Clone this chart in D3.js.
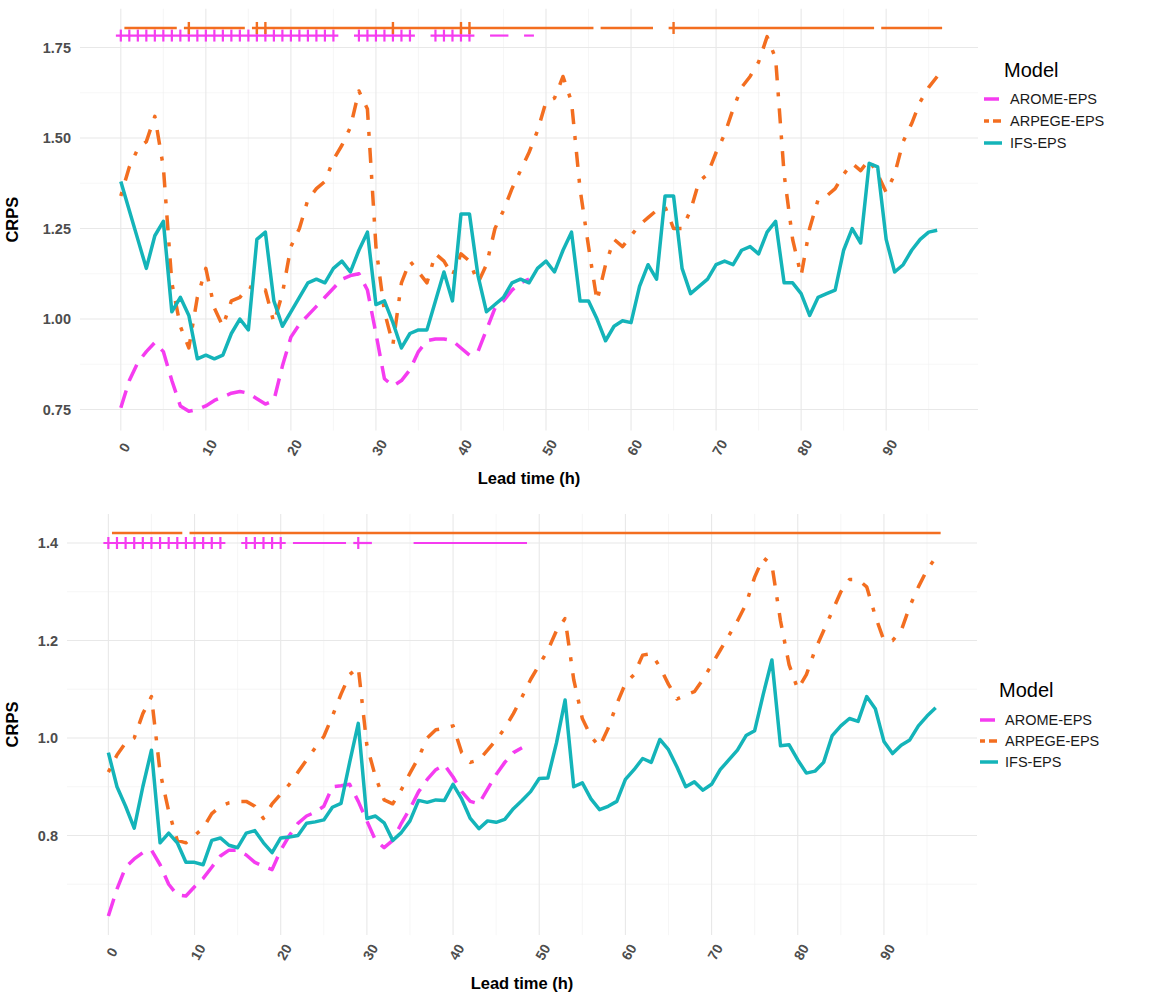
<!DOCTYPE html>
<html><head><meta charset="utf-8">
<script src="https://cdn.jsdelivr.net/npm/d3@7"></script>
<style>body{margin:0;background:#fff}</style>
</head><body>
<svg id="chart" width="1167" height="992"></svg>
<script>
// ---------- DATA ----------
const models = ["AROME-EPS", "ARPEGE-EPS", "IFS-EPS"];
const modelColors = ["#f53cf0", "#f36e20", "#14b4b9"];
const leadTimes = [0,1,2,3,4,5,6,7,8,9,10,11,12,13,14,15,16,17,18,19,20,21,22,23,24,25,26,27,28,29,30,31,32,33,34,35,36,37,38,39,40,41,42,43,44,45,46,47,48,49,50,51,52,53,54,55,56,57,58,59,60,61,62,63,64,65,66,67,68,69,70,71,72,73,74,75,76,77,78,79,80,81,82,83,84,85,86,87,88,89,90,91,92,93,94,95,96];
const xTicks = [0,10,20,30,40,50,60,70,80,90];
const topYTicks = [0.75,1.00,1.25,1.50,1.75];
const bottomYTicks = [0.8,1.0,1.2,1.4];

// Top panel
const topArome = [0.755,0.83,0.88,0.91,0.935,0.91,0.83,0.76,0.745,0.75,
  0.76,0.775,0.785,0.795,0.80,0.795,0.78,0.765,0.775,0.87,
  0.95,0.985,1.01,1.035,1.06,1.085,1.11,1.12,1.125,1.08,
  0.96,0.835,0.815,0.83,0.86,0.91,0.94,0.945,0.945,0.94,
  0.92,0.90,0.91,0.97,1.03,1.05,1.08,1.10,1.11];
const topArpege = [1.34,1.42,1.47,1.49,1.56,1.42,1.10,0.98,0.92,1.06,
  1.14,1.03,0.98,1.05,1.06,1.09,1.08,1.08,0.99,1.07,
  1.20,1.25,1.33,1.36,1.38,1.44,1.48,1.53,1.63,1.58,
  1.20,1.02,0.93,1.10,1.16,1.13,1.10,1.18,1.16,1.12,
  1.18,1.16,1.10,1.15,1.25,1.30,1.36,1.41,1.46,1.52,
  1.60,1.61,1.67,1.60,1.36,1.20,1.05,1.15,1.22,1.20,
  1.23,1.26,1.28,1.30,1.31,1.25,1.25,1.30,1.38,1.40,
  1.46,1.51,1.58,1.64,1.67,1.71,1.78,1.72,1.40,1.22,
  1.12,1.25,1.33,1.34,1.36,1.40,1.43,1.41,1.44,1.40,
  1.35,1.40,1.49,1.54,1.60,1.64,1.67];
const topIfs = [1.38,1.30,1.22,1.14,1.23,1.27,1.02,1.06,1.01,0.89,
  0.90,0.89,0.90,0.96,1.00,0.97,1.22,1.24,1.05,0.98,
  1.02,1.06,1.10,1.11,1.10,1.14,1.16,1.13,1.19,1.24,
  1.04,1.05,0.99,0.92,0.96,0.97,0.97,1.05,1.13,1.05,
  1.29,1.29,1.12,1.02,1.04,1.06,1.10,1.11,1.10,1.14,
  1.16,1.13,1.19,1.24,1.05,1.05,1.00,0.94,0.98,0.995,
  0.99,1.09,1.15,1.11,1.34,1.34,1.14,1.07,1.09,1.11,
  1.15,1.16,1.15,1.19,1.20,1.18,1.24,1.27,1.10,1.10,
  1.07,1.01,1.06,1.07,1.08,1.19,1.25,1.21,1.43,1.42,
  1.22,1.13,1.15,1.19,1.22,1.24,1.245];
// significance rows (top): runs of marked lead times [from, to] and runs of "+" marks
const topAromeSigLevel = 1.783;
const topArpegeSigLevel = 1.804;
const topAromeRuns = [[0,25],[28,34],[37,41],[44,45],[48,48]];
const topAromePlusRuns = [[0,25],[28,34],[37,41]];
const topArpegeRuns = [[1,6],[8,14],[16,55],[57,62],[65,88],[90,96]];
const topArpegePlusRuns = [[8,8],[16,17],[32,32],[40,41],[65,65]];

// Bottom panel
const bottomArome = [0.635,0.69,0.735,0.752,0.765,0.77,0.74,0.70,0.678,0.676,
  0.695,0.712,0.735,0.758,0.77,0.77,0.76,0.745,0.737,0.73,
  0.77,0.80,0.825,0.84,0.848,0.86,0.90,0.902,0.905,0.87,
  0.83,0.79,0.775,0.79,0.825,0.855,0.89,0.915,0.935,0.945,
  0.92,0.89,0.87,0.865,0.895,0.925,0.95,0.97,0.98];
const bottomArpege = [0.93,0.965,0.99,1.00,1.05,1.085,0.93,0.85,0.79,0.785,
  0.80,0.815,0.845,0.86,0.867,0.87,0.87,0.86,0.835,0.865,
  0.885,0.905,0.93,0.955,0.98,1.003,1.045,1.09,1.13,1.145,
  0.985,0.92,0.873,0.865,0.894,0.928,0.96,1.00,1.017,1.02,
  1.025,0.97,0.95,0.955,0.975,0.996,1.02,1.05,1.084,1.12,
  1.15,1.18,1.22,1.245,1.12,1.04,1.003,0.982,1.02,1.07,
  1.112,1.13,1.17,1.173,1.146,1.11,1.08,1.088,1.095,1.12,
  1.15,1.18,1.21,1.24,1.275,1.33,1.37,1.355,1.24,1.15,
  1.10,1.13,1.18,1.22,1.26,1.30,1.325,1.325,1.31,1.25,
  1.20,1.20,1.22,1.27,1.31,1.345,1.37];
const bottomIfs = [0.97,0.90,0.86,0.815,0.90,0.975,0.785,0.805,0.785,0.745,
  0.745,0.74,0.79,0.795,0.78,0.775,0.805,0.81,0.785,0.765,
  0.795,0.797,0.80,0.825,0.828,0.832,0.858,0.866,0.95,1.03,
  0.835,0.84,0.826,0.79,0.806,0.83,0.872,0.868,0.873,0.872,
  0.905,0.875,0.835,0.814,0.83,0.827,0.833,0.855,0.872,0.89,
  0.917,0.918,0.99,1.078,0.90,0.908,0.875,0.853,0.86,0.87,
  0.915,0.935,0.958,0.95,0.997,0.976,0.94,0.90,0.91,0.893,
  0.905,0.935,0.955,0.975,1.005,1.015,1.09,1.16,0.984,0.986,
  0.955,0.928,0.932,0.95,1.005,1.025,1.04,1.034,1.085,1.06,
  0.993,0.968,0.985,0.996,1.025,1.045,1.062];
const bottomAromeSigLevel = 1.400;
const bottomArpegeSigLevel = 1.4204;
const bottomAromeRuns = [[0,13],[16,20],[22,27],[29,30],[36,48]];
const bottomAromePlusRuns = [[0,13],[16,20],[29,29]];
const bottomArpegeRuns = [[1,8],[10,96]];
const bottomArpegePlusRuns = [];

// ---------- DRAW ----------
const FONT = "'Liberation Sans', Arial, Helvetica, sans-serif";
const svg = d3.select("#chart");
svg.append("rect").attr("width",1167).attr("height",992).attr("fill","#fff");

const dashes = ["18,10", "4,12,15,12", null];

function drawPanel(cfg) {
  const b = cfg.box;
  const g = svg.append("g");
  const x = d3.scaleLinear().domain([-4.8, 100.8]).range([b.left, b.right]);
  const all = cfg.series.flat().concat([cfg.aromeLevel, cfg.arpegeLevel]);
  const [lo, hi] = d3.extent(all);
  const pad = (hi - lo) * 0.05;
  const y = d3.scaleLinear().domain([lo - pad, hi + pad]).range([b.bottom, b.top]);

  // grid: minor
  const yStep = cfg.yTicks[1] - cfg.yTicks[0];
  const yMinor = cfg.yTicks.map(v => v - yStep/2).concat([cfg.yTicks[cfg.yTicks.length-1] + yStep/2])
    .filter(v => v >= y.domain()[0] && v <= y.domain()[1]);
  const xMinor = xTicks.map(v => v + 5).filter(v => v <= 100.8);
  g.selectAll(".ymin").data(yMinor).enter().append("line")
    .attr("x1", b.left).attr("x2", b.right).attr("y1", d => y(d)).attr("y2", d => y(d))
    .attr("stroke", "#f0f0f0").attr("stroke-width", 0.6);
  g.selectAll(".xmin").data(xMinor).enter().append("line")
    .attr("y1", b.top).attr("y2", b.bottom).attr("x1", d => x(d)).attr("x2", d => x(d))
    .attr("stroke", "#f0f0f0").attr("stroke-width", 0.6);
  g.selectAll(".ymaj").data(cfg.yTicks).enter().append("line")
    .attr("x1", b.left).attr("x2", b.right).attr("y1", d => y(d)).attr("y2", d => y(d))
    .attr("stroke", "#e8e8e8").attr("stroke-width", 1.1);
  g.selectAll(".xmaj").data(xTicks).enter().append("line")
    .attr("y1", b.top).attr("y2", b.bottom).attr("x1", d => x(d)).attr("x2", d => x(d))
    .attr("stroke", "#e8e8e8").attr("stroke-width", 1.1);

  // series lines
  const line = d3.line().x((d, i) => x(leadTimes[i])).y(d => y(d));
  cfg.series.forEach((s, i) => {
    g.append("path").attr("d", line(s)).attr("fill", "none")
      .attr("stroke", modelColors[i]).attr("stroke-width", 3.5)
      .attr("stroke-linejoin", "round").attr("stroke-linecap", "butt")
      .attr("stroke-dasharray", dashes[i]);
  });

  // significance rows
  const rows = [
    {level: cfg.aromeLevel, runs: cfg.aromeRuns, plus: cfg.aromePlus, color: modelColors[0], w: 2.2, h: 6},
    {level: cfg.arpegeLevel, runs: cfg.arpegeRuns, plus: cfg.arpegePlus, color: modelColors[1], w: 2.4, h: 6}
  ];
  rows.forEach(r => {
    g.selectAll(null).data(r.runs).enter().append("line")
      .attr("x1", d => x(d[0] - 0.58)).attr("x2", d => x(d[1] + 0.58))
      .attr("y1", y(r.level)).attr("y2", y(r.level))
      .attr("stroke", r.color).attr("stroke-width", r.w);
    const plusHours = r.plus.flatMap(p => leadTimes.filter(h => h >= p[0] && h <= p[1]));
    g.selectAll(null).data(plusHours).enter().append("line")
      .attr("x1", d => x(d)).attr("x2", d => x(d))
      .attr("y1", y(r.level) - r.h).attr("y2", y(r.level) + r.h)
      .attr("stroke", r.color).attr("stroke-width", r.w);
  });

  // axes
  const xa = g.append("g").attr("transform", `translate(0,${b.bottom})`)
    .call(d3.axisBottom(x).tickValues(xTicks).tickSize(0).tickFormat(d3.format("d")));
  xa.select(".domain").remove();
  xa.selectAll("text").attr("y", 0).attr("dy", null)
    .attr("text-anchor", "middle").attr("dominant-baseline", "central")
    .attr("transform", `translate(3,17) rotate(-60)`)
    .attr("font-family", FONT).attr("font-size", 14).attr("font-weight", "bold").attr("fill", "#4d4d4d");

  const ya = g.append("g").attr("transform", `translate(${b.left},0)`)
    .call(d3.axisLeft(y).tickValues(cfg.yTicks).tickSize(0).tickPadding(9).tickFormat(d3.format(cfg.yFmt)));
  ya.select(".domain").remove();
  ya.selectAll("text").attr("font-family", FONT).attr("font-size", 14.5)
    .attr("font-weight", "bold").attr("fill", "#4d4d4d");

  g.append("text").attr("x", (b.left + b.right) / 2).attr("y", cfg.xTitleY)
    .attr("text-anchor", "middle").attr("font-family", FONT).attr("font-size", 16.5)
    .attr("font-weight", "bold").attr("fill", "#000").text("Lead time (h)");
  g.append("text").attr("transform", `translate(18,${(b.top + b.bottom) / 2}) rotate(-90)`)
    .attr("text-anchor", "middle").attr("font-family", FONT).attr("font-size", 16.5)
    .attr("font-weight", "bold").attr("fill", "#000").text("CRPS");

  // legend
  const L = cfg.legend;
  g.append("text").attr("x", L.x).attr("y", L.titleY).attr("font-family", FONT)
    .attr("font-size", 20).attr("fill", "#000").text("Model");
  models.forEach((m, i) => {
    const cy = L.itemY[i];
    g.append("line").attr("x1", L.keyX).attr("x2", L.keyX + 18).attr("y1", cy).attr("y2", cy)
      .attr("stroke", modelColors[i]).attr("stroke-width", 3.5)
      .attr("stroke-dasharray", i === 0 ? "15,5" : (i === 1 ? "5,4,8,4" : null));
    g.append("text").attr("x", L.textX).attr("y", cy).attr("dominant-baseline", "central")
      .attr("font-family", FONT).attr("font-size", 14.5).attr("fill", "#1a1a1a").text(m);
  });
}

drawPanel({
  box: {left: 80, right: 978, top: 8.8, bottom: 430.5},
  series: [topArome, topArpege, topIfs],
  aromeLevel: topAromeSigLevel, arpegeLevel: topArpegeSigLevel,
  aromeRuns: topAromeRuns, aromePlus: topAromePlusRuns,
  arpegeRuns: topArpegeRuns, arpegePlus: topArpegePlusRuns,
  yTicks: topYTicks, yFmt: ".2f", xTitleY: 484,
  legend: {x: 1004, titleY: 77, keyX: 984, textX: 1010, itemY: [99, 121, 143]}
});
drawPanel({
  box: {left: 67, right: 977, top: 513.9, bottom: 935.1},
  series: [bottomArome, bottomArpege, bottomIfs],
  aromeLevel: bottomAromeSigLevel, arpegeLevel: bottomArpegeSigLevel,
  aromeRuns: bottomAromeRuns, aromePlus: bottomAromePlusRuns,
  arpegeRuns: bottomArpegeRuns, arpegePlus: bottomArpegePlusRuns,
  yTicks: bottomYTicks, yFmt: ".1f", xTitleY: 989,
  legend: {x: 999, titleY: 697, keyX: 980, textX: 1005, itemY: [720, 741, 762]}
});
</script>
</body></html>
